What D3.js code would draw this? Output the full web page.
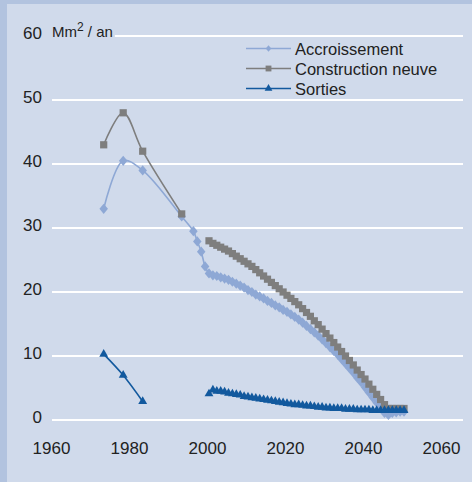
<!DOCTYPE html>
<html>
<head>
<meta charset="utf-8">
<script src="https://cdn.jsdelivr.net/npm/d3@7"></script>
<style>
body { margin: 0; background: #D0DAEB; }
svg { display: block; }
text { font-family: "Liberation Sans", Arial, sans-serif; fill: #222; }
</style>
</head>
<body>
<svg width="472" height="482"></svg>
<script>
// data

let earlyYears = [1973, 1978, 1983, 1993, 1996, 1997, 1998, 1999];
let lateYears = d3.range(2000, 2051);

let accrEarly = [33, 40.5, 39, 31.8, 29.5, 27.9, 26.3, 24.0];
let accrLate = [
    22.9, 22.6, 22.5, 22.3, 22.1, 21.9, 21.6, 21.3, 21.0, 20.7,
    20.3, 20.0, 19.6, 19.3, 19.0, 18.6, 18.3, 17.9, 17.6, 17.2,
    16.9, 16.5, 16.1, 15.7, 15.2, 14.7, 14.2, 13.7, 13.2, 12.6,
    12.0, 11.4, 10.8, 10.2, 9.5, 8.8, 8.1, 7.4, 6.6, 5.9,
    5.1, 4.3, 3.5, 2.7, 1.9, 1.1, 0.8, 1.1, 1.2, 1.3,
    1.3,
];

let constrEarly = [43, 48, 42, 32.2, null, null, null, null];
let constrLate = [
    28.0, 27.6, 27.3, 27.0, 26.7, 26.4, 26.0, 25.6, 25.2, 24.8,
    24.4, 24.0, 23.5, 23.0, 22.5, 22.0, 21.5, 21.0, 20.5, 20.0,
    19.5, 19.0, 18.5, 18.0, 17.4, 16.8, 16.2, 15.5, 14.9, 14.2,
    13.5, 12.8, 12.1, 11.4, 10.7, 10.0, 9.3, 8.6, 7.8, 7.1,
    6.4, 5.6, 4.8, 4.0, 3.2, 2.4, 1.8, 1.8, 1.8, 1.8,
    1.8,
];

let sortEarly = [10.3, 7.0, 2.9, null, null, null, null, null];
let sortLate = [
    4.1, 4.7, 4.5, 4.5, 4.4, 4.2, 4.1, 4.0, 3.9, 3.7,
    3.6, 3.5, 3.4, 3.3, 3.2, 3.1, 3.0, 2.9, 2.8, 2.7,
    2.6, 2.5, 2.4, 2.4, 2.3, 2.2, 2.2, 2.1, 2.0, 2.0,
    1.9, 1.9, 1.8, 1.8, 1.8, 1.7, 1.7, 1.7, 1.6, 1.6,
    1.6, 1.6, 1.5, 1.5, 1.5, 1.5, 1.5, 1.5, 1.5, 1.5,
    1.5,
];

let xTicks = [1960, 1980, 2000, 2020, 2040, 2060];
let yTicks = [0, 10, 20, 30, 40, 50, 60];
let seriesNames = ['Accroissement', 'Construction neuve', 'Sorties'];

let years = earlyYears.concat(lateYears);

// diamond like excel (rotated square, a bit taller)
let diamond = {
    draw(ctx, size) {
        let w = Math.sqrt(size) * 0.55, h = w * 1.2;
        ctx.moveTo(0, -h);
        ctx.lineTo(w, 0);
        ctx.lineTo(0, h);
        ctx.lineTo(-w, 0);
        ctx.closePath();
    },
};

let series = [
    { name: seriesNames[0], values: accrEarly.concat(accrLate), color: '#8EA8D5', shape: diamond, size: 60, legSize: 26 },
    { name: seriesNames[1], values: constrEarly.concat(constrLate), color: '#7E7E7E', shape: d3.symbolSquare, size: 52, legSize: 34 },
    { name: seriesNames[2], values: sortEarly.concat(sortLate), color: '#12599E', shape: d3.symbolTriangle, size: 34, legSize: 26 },
];

// frame

let svg = d3.select('svg');

svg.append('rect')
    .attr('width', 472).attr('height', 482)
    .attr('fill', '#B2C3DF');
svg.append('rect')
    .attr('x', 7).attr('y', 4)
    .attr('width', 465).attr('height', 478)
    .attr('fill', '#D0DAEB');

// scales

let x = d3.scaleLinear().domain([1960, 2060]).range([53, 443]);
let y = d3.scaleLinear().domain([0, 60]).range([420, 36]);

// grid

svg.append('g')
    .selectAll('line')
    .data(yTicks)
    .enter()
    .append('line')
    .attr('x1', 52).attr('x2', 463)
    .attr('y1', (d) => y(d)).attr('y2', (d) => y(d))
    .attr('stroke', 'white')
    .attr('stroke-width', 2);

// y labels
svg.append('g')
    .selectAll('text')
    .data(yTicks)
    .enter()
    .append('text')
    .attr('x', 42)
    .attr('y', (d) => y(d) + 2.5)
    .attr('text-anchor', 'end')
    .style('font-size', '17px')
    .text((d) => d);

// x labels
svg.append('g')
    .selectAll('text')
    .data(xTicks)
    .enter()
    .append('text')
    .attr('x', (d) => x(d) - 1.5)
    .attr('y', 454)
    .attr('text-anchor', 'middle')
    .style('font-size', '17px')
    .text((d) => d);

// unit label, with a patch over the top gridline
let unitBg = svg.append('rect').attr('fill', '#D0DAEB');
let unit = svg.append('text')
    .attr('x', 52)
    .attr('y', y(60) + 1)
    .style('font-size', '15px');
unit.append('tspan').text('Mm');
unit.append('tspan').attr('dy', -6).style('font-size', '12px').text('2');
unit.append('tspan').attr('dy', 6).text(' / an');
let bb = unit.node().getBBox();
unitBg.attr('x', 51).attr('y', y(60) - 3).attr('width', bb.width + 3).attr('height', 6);

// series

let line = d3.line()
    .defined((d) => d[1] != null)
    .x((d) => x(d[0]))
    .y((d) => y(d[1]))
    .curve(d3.curveCatmullRom.alpha(0.5));

series.forEach(function(s) {
    let pts = years.map((yr, i) => [yr, s.values[i]]);
    let g = svg.append('g');

    g.append('path')
        .attr('d', line(pts))
        .attr('fill', 'none')
        .attr('stroke', s.color)
        .attr('stroke-width', 1.6);

    g.selectAll('path.mark')
        .data(pts.filter((d) => d[1] != null))
        .enter()
        .append('path')
        .classed('mark', 1)
        .attr('transform', (d) => `translate(${x(d[0])},${y(d[1])})`)
        .attr('d', d3.symbol().type(s.shape).size(s.size))
        .attr('fill', s.color);
});

// legend

let legend = svg.append('g')
    .selectAll('g')
    .data(series)
    .enter()
    .append('g')
    .attr('transform', (d, i) => `translate(0,${48.5 + i * 20})`);

legend.append('line')
    .attr('x1', 246).attr('x2', 291)
    .attr('stroke', (d) => d.color)
    .attr('stroke-width', 1.6);

legend.append('path')
    .attr('transform', 'translate(268.5,0)')
    .attr('d', (d) => d3.symbol().type(d.shape).size(d.legSize)())
    .attr('fill', (d) => d.color);

legend.append('text')
    .attr('x', 295)
    .attr('y', 6)
    .style('font-size', '16.5px')
    .text((d) => d.name);
</script>
</body>
</html>
